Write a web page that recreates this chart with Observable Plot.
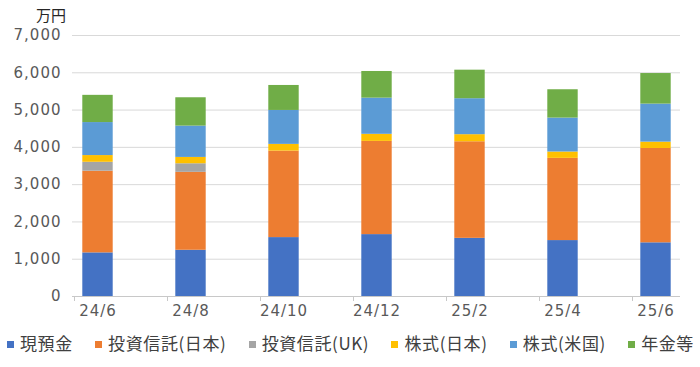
<!DOCTYPE html>
<html>
<head>
<meta charset="utf-8">
<script src="https://cdn.jsdelivr.net/npm/d3@7"></script>
<script src="https://cdn.jsdelivr.net/npm/@observablehq/plot@0.6"></script>
<style>
  html, body { margin: 0; padding: 0; background: #fff; }
  #wrap { position: relative; width: 700px; height: 367px; overflow: hidden; background: #fff; }
  #chart { position: absolute; left: 0; top: 0; }
  #unit { position: absolute; left: 36px; top: 7px; font: 15px "Noto Sans CJK JP", sans-serif; line-height: 1; color: #262626; }
  #legend { position: absolute; left: 7px; width: 687px; top: 334px; display: flex; justify-content: space-between; align-items: center;
            font: 17px "Noto Sans CJK JP", sans-serif; letter-spacing: 0.6px; line-height: 1; color: #404040; white-space: nowrap; }
  #legend .sw { display: inline-block; width: 7px; height: 7px; margin-right: 6px; vertical-align: middle; position: relative; top: -1px; }
</style>
</head>
<body>
<div id="wrap">
  <div id="chart"></div>
  <div id="unit">万円</div>
  <div id="legend"></div>
</div>
<script>
const dates = ["24/6", "24/8", "24/10", "24/12", "25/2", "25/4", "25/6"];
const series = ["現預金", "投資信託(日本)", "投資信託(UK)", "株式(日本)", "株式(米国)", "年金等"];
const cash     = [1170, 1240, 1580, 1660, 1560, 1500, 1440];
const fundsJP  = [2190, 2090, 2320, 2500, 2590, 2205, 2530];
const fundsUK  = [240, 230, 0, 0, 0, 0, 0];
const stocksJP = [180, 170, 180, 190, 190, 170, 170];
const stocksUS = [885, 840, 910, 970, 965, 910, 1020];
const pension  = [730, 760, 670, 715, 765, 760, 820];
const yTicks = [0, 1000, 2000, 3000, 4000, 5000, 6000, 7000];
const colors = ["#4472C4", "#ED7D31", "#A5A5A5", "#FFC000", "#5B9BD5", "#70AD47"];

const valuesBySeries = [cash, fundsJP, fundsUK, stocksJP, stocksUS, pension];
const data = [];
series.forEach((s, si) => {
  dates.forEach((d, di) => data.push({date: d, series: s, value: valuesBySeries[si][di]}));
});

const chart = Plot.plot({
  width: 700,
  height: 330,
  marginLeft: 72,
  marginRight: 20,
  marginTop: 35,
  marginBottom: 34,
  style: {fontFamily: "DejaVu Sans, sans-serif", fontSize: "15px", background: "white", letterSpacing: "1px"},
  x: {domain: dates, range: [48.7, 703.9], padding: 0, axis: null, label: null},
  y: {domain: [0, 7000], axis: null, label: null},
  color: {domain: series, range: colors},
  marks: [
    Plot.gridY(yTicks, {stroke: "#d9d9d9", strokeOpacity: 1, strokeWidth: 1}),
    Plot.barY(data, {x: "date", y: "value", fill: "series", insetLeft: 31.3, insetRight: 31.3}),
    Plot.ruleY([0], {stroke: "#c8c8c8", strokeWidth: 1}),
    Plot.axisY({ticks: yTicks, tickSize: 0, tickPadding: 11, tickFormat: d3.format(","), fill: "#595959", label: null}),
    Plot.axisX({tickSize: 0, tickPadding: 9, fill: "#595959", label: null}),
    Plot.axisX({tickSize: 5, tickFormat: () => "", dx: -23.5, stroke: "#c8c8c8", label: null})
  ]
});
document.getElementById("chart").appendChild(chart);

const legend = document.getElementById("legend");
series.forEach((s, i) => {
  const item = document.createElement("span");
  const sw = document.createElement("span");
  sw.className = "sw";
  sw.style.background = colors[i];
  item.appendChild(sw);
  item.appendChild(document.createTextNode(s));
  legend.appendChild(item);
});
</script>
</body>
</html>
